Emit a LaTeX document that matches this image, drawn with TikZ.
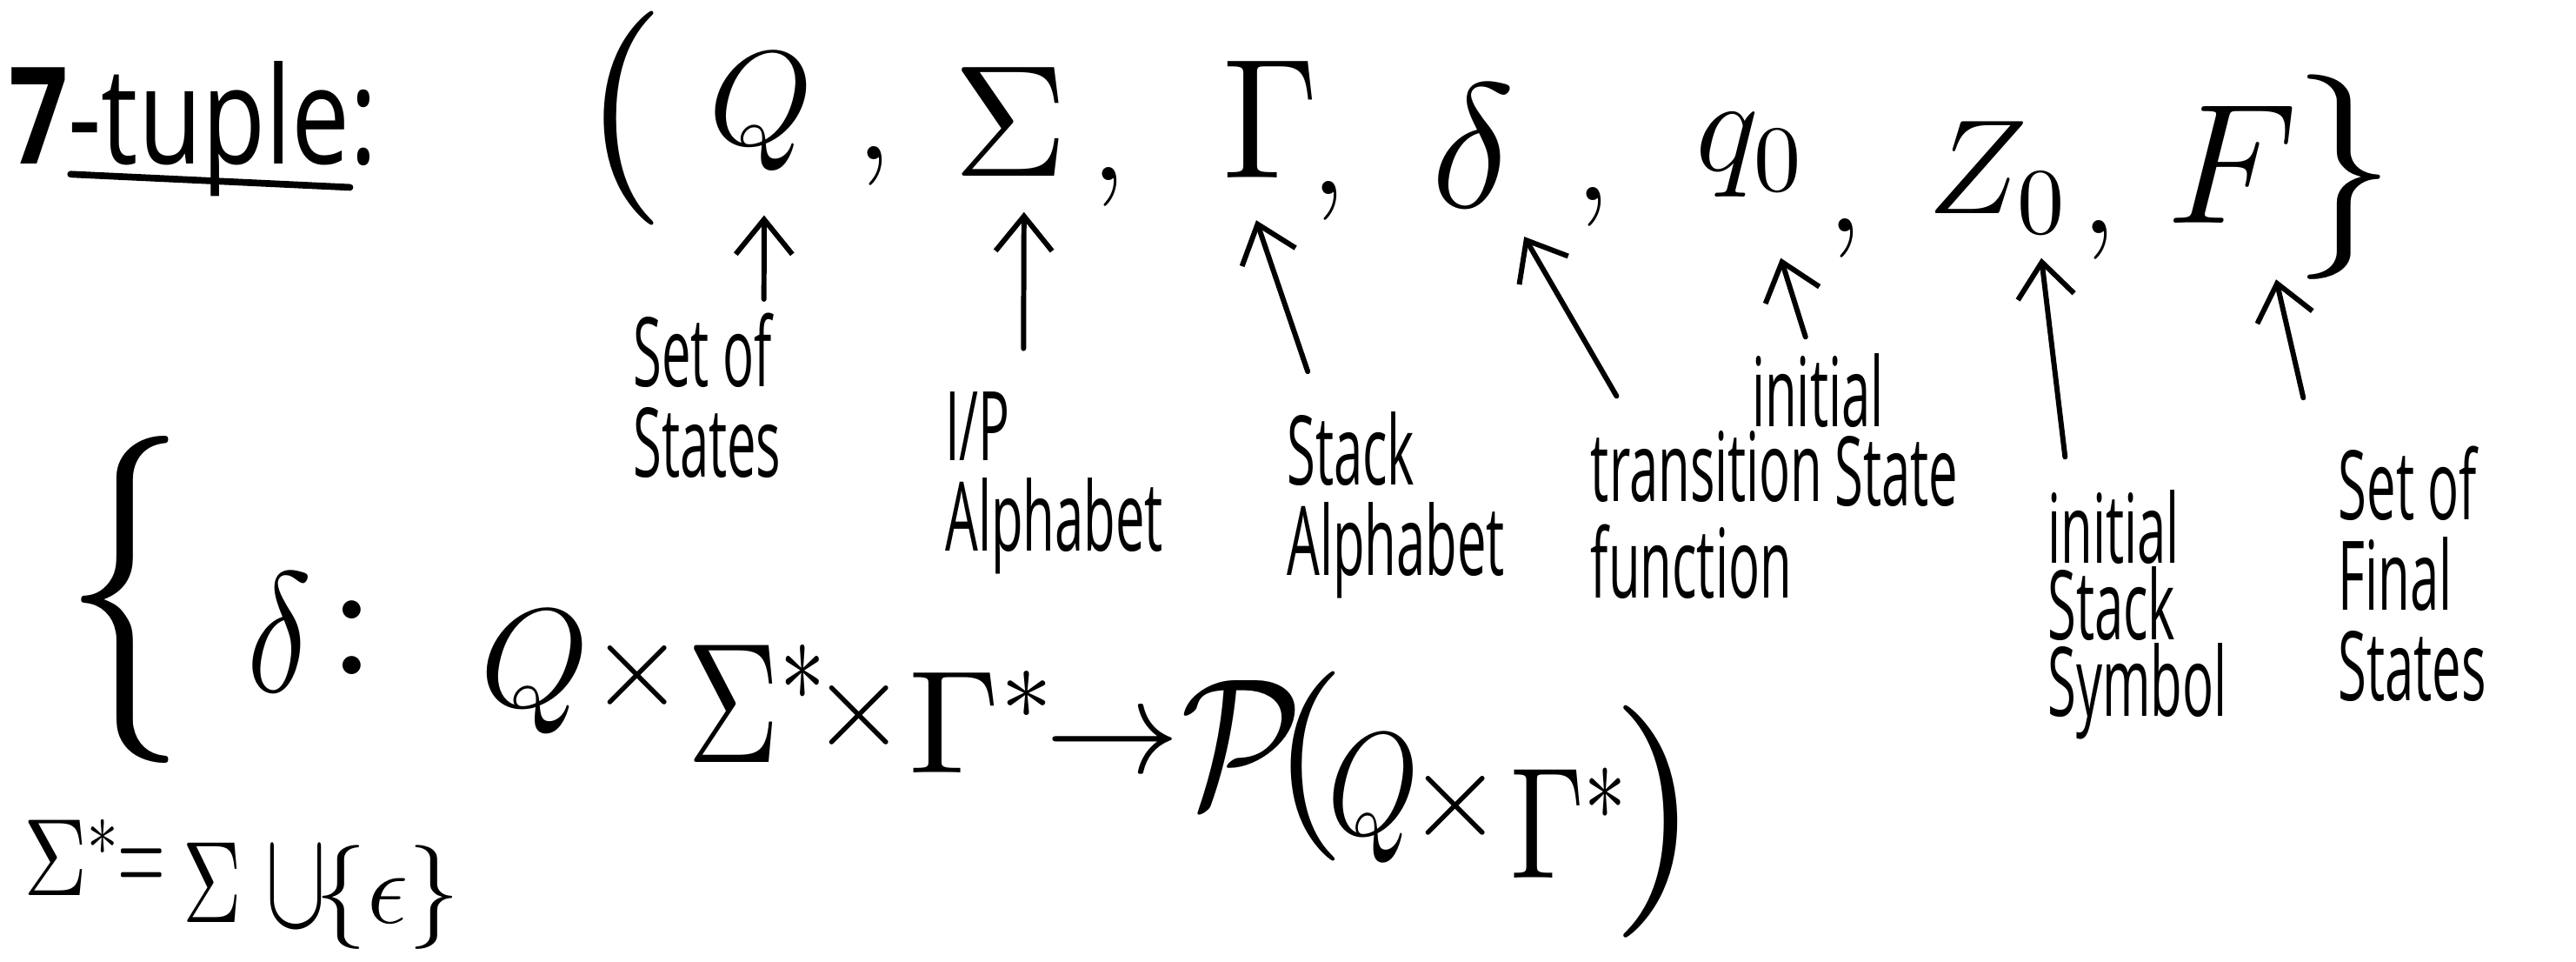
\documentclass[tikz,border=0pt]{standalone}
\usepackage{fix-cm}
\usepackage{graphicx}
\usepackage[no-math]{fontspec}
\usepackage{tikz}
\usetikzlibrary{arrows.meta,calc,positioning}
\DeclareFontFamily{OT1}{cmr}{\hyphenchar\font45}
\DeclareFontShape{OT1}{cmr}{m}{n}{<->cmr10}{}
\newfontfamily\hand{Open Sans}
% stretched handwriting-like label, lines given as \hbox{..}
\newcommand{\tall}[2][16]{\scalebox{1}[1.85]{\vbox{\baselineskip=#1pt\lineskiplimit=-100pt #2}}}
% narrowed symbol
\newcommand{\narrow}[2]{\scalebox{#1}[1]{$#2$}}
\tikzset{
 sym/.style={anchor=base west,font=\fontsize{44}{48}\selectfont},
 fs/.style={font=\fontsize{#1}{#1}\selectfont},
 symc/.style={anchor=base west,font=\fontsize{36}{40}\selectfont},
 lbl/.style={anchor=north west,font=\hand\fontsize{17}{19}\selectfont},
 pointer/.style={-{Straight Barb[length=4mm,width=6.5mm]},line width=1.7pt,line join=round},
}

\begin{document}
\begin{tikzpicture}[x=0.189mm,y=-0.189mm,inner sep=0pt,line cap=round]
\useasboundingbox (0,0) rectangle (1568,585);
% heading
\node[anchor=base west,font=\hand\fontsize{34}{36}\selectfont] (head) at (5,100)
 {\scalebox{1}[1.3]{{\bfseries 7}-tuple:}};
\draw[line width=2.2pt] ([shift={(38,6)}]head.base west) -- ([shift={(208,14)}]head.base west);
% the tuple
\node[fs=70] (lpar) at (380,72) {$($};
\node[sym] (Q) at (431,88) {$Q$};
\node[sym,anchor=center] (c1) at (532,101) {$,$};
\node[sym,fs=52] (Sig) at (580,107) {$\Sigma$};
\node[sym,anchor=center] (c2) at (675,114) {$,$};
\node[sym,fs=56] (Gam) at (744,108) {\narrow{.9}{\Gamma}};
\node[sym,anchor=center] (c3) at (809,122) {$,$};
\node[sym,fs=58] (del) at (871,126) {$\delta$};
\node[sym,anchor=center] (c4) at (970,126) {$,$};
\node[sym] (q0) at (1032,104) {$q_0$};
\node[sym,anchor=center] (c5) at (1123,145) {$,$};
\node[sym] (Z0) at (1173,130) {$Z_0$};
\node[sym,anchor=center] (c6) at (1278,146) {$,$};
\node[sym,fs=56] (F) at (1318,136) {$F$};
\node[fs=67] (rbr) at (1427,108) {$\}$};
% what each part is
\node[lbl] (lSS) at (385,190) {\tall{\hbox{Set of}\hbox{States}}};
\node[lbl] (lIP) at (575,238) {\tall{\hbox{I/P}\hbox{Alphabet}}};
\node[lbl] (lSA) at (783,250) {\tall{\hbox{Stack}\hbox{Alphabet}}};
\node[lbl] (lTF) at (968,262) {\tall[17]{\hbox{transition}\hbox{function}}};
\node[lbl] (lIS) at (1066,215) {\tall[14]{\hbox{initial}\hbox{\hspace*{1.6em}State}}};
\node[lbl] (lISS) at (1246,298) {\tall[13.5]{\hbox{initial}\hbox{Stack}\hbox{Symbol}}};
\node[lbl] (lSFS) at (1423,271) {\tall{\hbox{Set of}\hbox{Final}\hbox{States}}};
\draw[pointer] ([shift={(80,-8)}]lSS.north west) -- ([shift={(2,43)}]Q.base);
\draw[pointer] ([shift={(48,-26)}]lIP.north west) -- ([shift={(8,22)}]Sig.base);
\draw[pointer] ([shift={(13,-24)}]lSA.north west) -- ([shift={(-9,26)}]Gam.base);
\draw[pointer] ([shift={(16,-21)}]lTF.north west) -- ([shift={(31,18)}]del.base);
\draw[pointer] ([shift={(33,-10)}]lIS.north west) -- ([shift={(19,53)}]q0.base);
\draw[pointer] ([shift={(11,-20)}]lISS.north west) -- ([shift={(27,27)}]Z0.base);
\draw[pointer] ([shift={(-21,-29)}]lSFS.north west) -- ([shift={(27,34)}]F.base);
% transition function
\node[fs=107] (brace) at (76,365) {\narrow{.75}{\{}};
\node[sym,fs=56] (d2) at (150,421) {\narrow{.8}{\delta}};
\node[sym,anchor=center,fs=56] (col) at (214,388) {$:$};
\node[sym,fs=46] (Q2) at (292,430) {$Q$};
\node[sym,anchor=center,fs=40] (x1) at (388,411) {$\times$};
\node[sym,fs=56] (S2) at (418,464) {\narrow{.75}{\Sigma^*}};
\node[sym,anchor=center,fs=40] (x2) at (523,435) {$\times$};
\node[sym,fs=48] (G2) at (553,470) {$\Gamma^*$};
\node[sym,anchor=center] (to) at (677,455) {$\rightarrow$};
\node[fs=60] (pow) at (756,452) {\narrow{.85}{\mathcal{P}}};
\node[fs=62] (lp2) at (797,466) {$($};
\node[sym,fs=48] (Q3) at (808,508) {\narrow{.8}{Q}};
\node[sym,anchor=center,fs=40] (x3) at (886,490) {$\times$};
\node[sym,fs=52] (G3) at (919,534) {\narrow{.75}{\Gamma^*}};
\node[fs=76] (rp2) at (1008,500) {$)$};
% closure of the input alphabet
\node[symc] (S3) at (14,545) {\narrow{.8}{\Sigma^*}};
\node[symc,anchor=center,fs=40] (eq) at (86,530) {\narrow{.5}{=}};
\node[symc,fs=38] (S4) at (111,561) {\narrow{.7}{\Sigma}};
\node[symc,anchor=center,fs=46] (cup) at (180,540) {\narrow{.65}{\cup}};
\node[symc,anchor=center,fs=34] (eps) at (236,546) {$\{\epsilon\}$};
\end{tikzpicture}
\end{document}
